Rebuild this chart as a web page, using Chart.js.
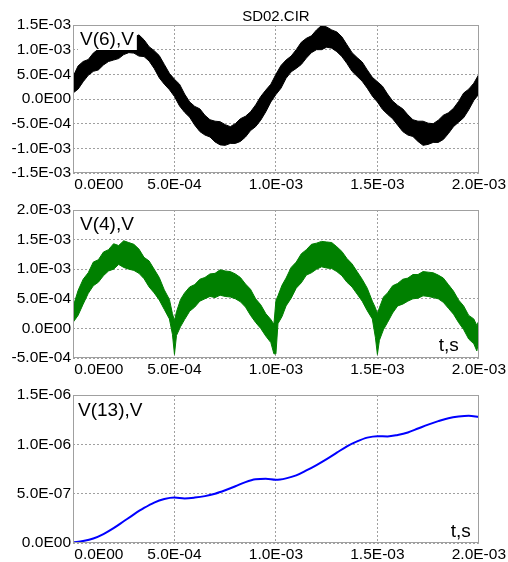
<!DOCTYPE html>
<html>
<head>
<meta charset="utf-8">
<script src="https://cdn.jsdelivr.net/npm/chart.js@4.4.1/dist/chart.umd.min.js"></script>
<style>
  body { margin: 0; background: #fff; }
  canvas { position: absolute; left: 0; }
</style>
</head>
<body>
<canvas id="c1" width="508" height="192" style="top:0px"></canvas>
<canvas id="c2" width="508" height="185" style="top:192px"></canvas>
<canvas id="c3" width="508" height="185" style="top:377px"></canvas>
<script>
// time axis, s
const xTicks = [0, 5e-4, 1e-3, 1.5e-3, 2e-3]
const xTickLabels = ['0.0E00', '5.0E-04', '1.0E-03', '1.5E-03', '2.0E-03']

// V(6) - noisy band, upper and lower edge
const t6 = [0, 0.25e-4, 0.5e-4, 0.75e-4, 1e-4, 1.25e-4, 1.5e-4, 1.75e-4, 2e-4, 2.25e-4,
  2.5e-4, 2.75e-4, 3e-4, 3.25e-4, 3.5e-4, 3.75e-4, 4e-4, 4.25e-4, 4.5e-4, 4.75e-4,
  5e-4, 5.25e-4, 5.5e-4, 5.75e-4, 6e-4, 6.25e-4, 6.5e-4, 6.75e-4, 7e-4, 7.25e-4,
  7.5e-4, 7.75e-4, 8e-4, 8.25e-4, 8.5e-4, 8.75e-4, 9e-4, 9.25e-4, 9.5e-4, 9.75e-4,
  10e-4, 10.25e-4, 10.5e-4, 10.75e-4, 11e-4, 11.25e-4, 11.5e-4, 11.75e-4, 12e-4, 12.25e-4,
  12.5e-4, 12.75e-4, 13e-4, 13.25e-4, 13.5e-4, 13.75e-4, 14e-4, 14.25e-4, 14.5e-4, 14.75e-4,
  15e-4, 15.25e-4, 15.5e-4, 15.75e-4, 16e-4, 16.25e-4, 16.5e-4, 16.75e-4, 17e-4, 17.25e-4,
  17.5e-4, 17.75e-4, 18e-4, 18.25e-4, 18.5e-4, 18.75e-4, 19e-4, 19.25e-4, 19.5e-4, 19.75e-4, 20e-4]
const v6Upper = [4.5e-4, 6.7e-4, 7.6e-4, 8.0e-4, 9.3e-4, 10.1e-4, 10.0e-4, 10.0e-4, 10.5e-4, 11.4e-4,
  11.5e-4, 12.2e-4, 12.5e-4, 13.0e-4, 12.0e-4, 10.6e-4, 9.8e-4, 8.8e-4, 7.0e-4, 5.2e-4,
  4.0e-4, 3.0e-4, 1.0e-4, -0.6e-4, -1.5e-4, -2.0e-4, -3.3e-4, -4.2e-4, -4.5e-4, -4.6e-4,
  -5.2e-4, -5.6e-4, -5.0e-4, -4.0e-4, -3.5e-4, -2.6e-4, -1.2e-4, 0.5e-4, 1.8e-4, 3.0e-4,
  5.0e-4, 6.8e-4, 7.9e-4, 8.7e-4, 10.0e-4, 11.5e-4, 12.3e-4, 12.8e-4, 14.0e-4, 14.9e-4,
  14.6e-4, 14.0e-4, 13.6e-4, 12.6e-4, 11.0e-4, 9.4e-4, 8.4e-4, 7.5e-4, 5.9e-4, 4.4e-4,
  3.5e-4, 2.6e-4, 1.0e-4, -0.4e-4, -1.3e-4, -2.0e-4, -3.2e-4, -4.2e-4, -4.5e-4, -4.5e-4,
  -4.9e-4, -5.0e-4, -4.3e-4, -3.3e-4, -2.8e-4, -1.9e-4, -0.5e-4, 1.2e-4, 2.0e-4, 3.2e-4, 5.0e-4]
const v6Lower = [1.2e-4, 2.0e-4, 3.5e-4, 4.8e-4, 5.6e-4, 5.9e-4, 6.9e-4, 7.6e-4, 7.9e-4, 8.2e-4,
  9.0e-4, 9.4e-4, 9.3e-4, 8.7e-4, 8.6e-4, 7.7e-4, 6.2e-4, 4.3e-4, 3.0e-4, 1.9e-4,
  0.5e-4, -1.4e-4, -2.7e-4, -3.7e-4, -5.3e-4, -6.6e-4, -7.3e-4, -7.7e-4, -8.7e-4, -9.3e-4,
  -9.4e-4, -9.0e-4, -9.0e-4, -8.6e-4, -7.7e-4, -6.4e-4, -5.6e-4, -4.3e-4, -2.6e-4, -0.6e-4,
  0.9e-4, 2.2e-4, 4.2e-4, 5.5e-4, 6.2e-4, 7.0e-4, 8.3e-4, 9.4e-4, 10.0e-4, 10.0e-4,
  10.5e-4, 10.3e-4, 9.6e-4, 8.6e-4, 7.2e-4, 5.6e-4, 4.6e-4, 3.6e-4, 2.2e-4, 0.6e-4,
  -0.6e-4, -2.1e-4, -3.1e-4, -4.0e-4, -5.3e-4, -6.6e-4, -7.3e-4, -7.6e-4, -8.6e-4, -9.4e-4,
  -9.2e-4, -8.8e-4, -8.8e-4, -8.2e-4, -7.0e-4, -5.6e-4, -4.7e-4, -3.8e-4, -2.2e-4, -0.3e-4, 1.0e-4]
const y6Ticks = [-1.5e-3, -1e-3, -5e-4, 0, 5e-4, 1e-3, 1.5e-3]
const y6Labels = ['-1.5E-03', '-1.0E-03', '-5.0E-04', '0.0E00', '5.0E-04', '1.0E-03', '1.5E-03']

// V(4) - rectified noisy band
const t4 = [0, 0.25e-4, 0.5e-4, 0.75e-4, 1e-4, 1.25e-4, 1.5e-4, 1.75e-4, 2e-4, 2.25e-4,
  2.5e-4, 2.75e-4, 3e-4, 3.25e-4, 3.5e-4, 3.75e-4, 4e-4, 4.25e-4, 4.5e-4, 4.75e-4,
  4.9e-4, 5.0e-4, 5.1e-4, 5.3e-4,
  5.5e-4, 5.75e-4, 6e-4, 6.25e-4, 6.5e-4, 6.75e-4, 7e-4, 7.25e-4, 7.5e-4,
  7.75e-4, 8e-4, 8.25e-4, 8.5e-4, 8.75e-4, 9e-4, 9.25e-4, 9.5e-4, 9.75e-4,
  9.9e-4, 10.0e-4, 10.1e-4, 10.3e-4,
  10.5e-4, 10.75e-4, 11e-4, 11.25e-4, 11.5e-4, 11.75e-4, 12e-4, 12.25e-4, 12.5e-4,
  12.75e-4, 13e-4, 13.25e-4, 13.5e-4, 13.75e-4, 14e-4, 14.25e-4, 14.5e-4, 14.75e-4,
  14.9e-4, 15.0e-4, 15.1e-4, 15.3e-4,
  15.5e-4, 15.75e-4, 16e-4, 16.25e-4, 16.5e-4, 16.75e-4, 17e-4, 17.25e-4, 17.5e-4,
  17.75e-4, 18e-4, 18.25e-4, 18.5e-4, 18.75e-4, 19e-4, 19.25e-4, 19.5e-4, 19.75e-4,
  19.9e-4, 20e-4]
const v4Upper = [3.6e-4, 6.4e-4, 8.3e-4, 9.4e-4, 11.2e-4, 11.6e-4, 12.9e-4, 13.3e-4, 14.3e-4, 14.0e-4,
  14.8e-4, 14.5e-4, 14.2e-4, 13.4e-4, 12.0e-4, 11.4e-4, 10.0e-4, 8.6e-4, 6.5e-4, 4.9e-4,
  2.5e-4, 1.3e-4, 2.8e-4, 4.9e-4,
  6.0e-4, 7.0e-4, 7.4e-4, 8.3e-4, 8.6e-4, 9.2e-4, 9.3e-4, 9.9e-4, 9.7e-4,
  9.6e-4, 9.2e-4, 8.6e-4, 7.5e-4, 6.6e-4, 5.0e-4, 4.0e-4, 2.5e-4, 1.5e-4,
  0.7e-4, 4.7e-4, 5.5e-4, 7.3e-4,
  8.5e-4, 10.3e-4, 11.2e-4, 12.6e-4, 13.3e-4, 14.2e-4, 14.4e-4, 14.7e-4, 14.6e-4,
  14.5e-4, 13.8e-4, 13.0e-4, 11.8e-4, 10.9e-4, 9.6e-4, 8.3e-4, 6.8e-4, 4.6e-4,
  3.5e-4, 2.5e-4, 3.5e-4, 5.3e-4,
  6.0e-4, 7.2e-4, 7.6e-4, 8.3e-4, 8.5e-4, 9.1e-4, 9.1e-4, 9.6e-4, 9.5e-4,
  9.4e-4, 9.0e-4, 8.5e-4, 7.4e-4, 6.3e-4, 4.8e-4, 3.8e-4, 2.2e-4, 1.6e-4,
  0.5e-4, 1.3e-4]
const v4Lower = [1.0e-4, 2.2e-4, 4.1e-4, 5.9e-4, 7.2e-4, 7.8e-4, 8.9e-4, 9.7e-4, 10.0e-4, 10.8e-4,
  10.3e-4, 10.0e-4, 9.8e-4, 9.3e-4, 8.4e-4, 7.0e-4, 6.0e-4, 4.8e-4, 3.2e-4, 1.6e-4,
  -1.0e-4, -4.4e-4, -1.2e-4, 0.3e-4,
  1.5e-4, 2.9e-4, 3.6e-4, 4.6e-4, 5.0e-4, 5.4e-4, 5.2e-4, 5.6e-4, 5.4e-4,
  5.3e-4, 5.0e-4, 4.5e-4, 3.6e-4, 2.2e-4, 1.0e-4, 0.0, -1.3e-4, -2.4e-4,
  -4.3e-4, -4.3e-4, 0.8e-4, 2.0e-4,
  3.8e-4, 5.1e-4, 6.8e-4, 7.7e-4, 9.0e-4, 9.4e-4, 10.0e-4, 10.4e-4, 10.2e-4,
  10.1e-4, 9.6e-4, 8.9e-4, 7.8e-4, 7.0e-4, 5.8e-4, 4.6e-4, 3.0e-4, 1.6e-4,
  -1.5e-4, -4.4e-4, -2.0e-4, -0.2e-4,
  1.0e-4, 2.6e-4, 3.8e-4, 4.1e-4, 4.6e-4, 5.0e-4, 5.1e-4, 5.5e-4, 5.4e-4,
  5.2e-4, 5.0e-4, 4.4e-4, 3.4e-4, 2.4e-4, 1.0e-4, -0.2e-4, -1.8e-4, -2.6e-4,
  -3.8e-4, -2.1e-4]
const y4Ticks = [-5e-4, 0, 5e-4, 1e-3, 1.5e-3, 2e-3]
const y4Labels = ['-5.0E-04', '0.0E00', '5.0E-04', '1.0E-03', '1.5E-03', '2.0E-03']

// V(13) - smooth
const t13 = [0, 0.5e-4, 1e-4, 1.5e-4, 2e-4, 2.5e-4, 3e-4, 3.5e-4, 4e-4, 4.5e-4,
  5e-4, 5.5e-4, 6e-4, 6.5e-4, 7e-4, 7.5e-4, 8e-4, 8.5e-4, 9e-4, 9.5e-4,
  10e-4, 10.5e-4, 11e-4, 11.5e-4, 12e-4, 12.5e-4, 13e-4, 13.5e-4, 14e-4, 14.5e-4,
  15e-4, 15.5e-4, 16e-4, 16.5e-4, 17e-4, 17.5e-4, 18e-4, 18.5e-4, 19e-4, 19.5e-4, 20e-4]
const v13 = [0.05e-7, 0.2e-7, 0.45e-7, 0.9e-7, 1.5e-7, 2.2e-7, 2.9e-7, 3.55e-7, 4.1e-7, 4.45e-7,
  4.6e-7, 4.52e-7, 4.6e-7, 4.75e-7, 5.0e-7, 5.35e-7, 5.75e-7, 6.17e-7, 6.45e-7, 6.5e-7,
  6.4e-7, 6.55e-7, 6.85e-7, 7.35e-7, 7.9e-7, 8.5e-7, 9.15e-7, 9.8e-7, 10.3e-7, 10.68e-7,
  10.83e-7, 10.8e-7, 10.95e-7, 11.2e-7, 11.6e-7, 12.0e-7, 12.35e-7, 12.65e-7, 12.82e-7, 12.9e-7, 12.78e-7]
const y13Ticks = [0, 5e-7, 1e-6, 1.5e-6]
const y13Labels = ['0.0E00', '5.0E-07', '1.0E-06', '1.5E-06']

Chart.defaults.font.family = "'Liberation Sans', Arial, sans-serif"
Chart.defaults.color = '#000'

const pts = (xs, ys) => xs.map((x, i) => ({ x: x, y: ys[i] }))

// first time label starts at the axis instead of being centred on it
const xLabel = (v, i) => i === 0 ? '            ' + xTickLabels[i] : xTickLabels[i]

// frame + text labels drawn over the plot
const frame = {
  id: 'frame',
  afterDatasetsDraw(chart, args, opts) {
    const ctx = chart.ctx
    const a = chart.chartArea
    ctx.save()
    ;(opts.notes || []).forEach(n => {
      ctx.font = n.size + "px 'Liberation Sans', Arial, sans-serif"
      ctx.textAlign = n.align || 'left'
      ctx.textBaseline = 'alphabetic'
      const x = n.right ? a.right - n.dx : a.left + n.dx
      const y = n.bottom ? a.bottom - n.dy : a.top + n.dy
      if (n.box) {
        const w = ctx.measureText(n.text).width
        ctx.fillStyle = '#fff'
        ctx.fillRect(x - 2, y - 18, w + 5, 23)
      }
      ctx.fillStyle = '#000'
      ctx.fillText(n.text, x, y)
    })
    if (opts.title) {
      ctx.font = "15px 'Liberation Sans', Arial, sans-serif"
      ctx.textAlign = 'center'
      ctx.fillStyle = '#000'
      ctx.fillText(opts.title, (a.left + a.right) / 2, a.top - 4)
    }
    ctx.strokeStyle = '#a0a0a0'
    ctx.lineWidth = 1
    ctx.strokeRect(Math.round(a.left) + 0.5, Math.round(a.top) + 0.5,
      Math.round(a.right - a.left) - 1, Math.round(a.bottom - a.top) - 1)
    ctx.restore()
  }
}

function makeChart(id, cfg) {
  const grid = { color: '#a0a0a0', lineWidth: 1, drawTicks: false }
  const border = { display: false, dash: [2, 2] }
  return new Chart(document.getElementById(id), {
    type: 'line',
    data: { datasets: cfg.datasets },
    options: {
      responsive: false,
      animation: false,
      devicePixelRatio: 1,
      layout: { padding: { top: cfg.top, right: 28, left: 0, bottom: 0 } },
      elements: { point: { radius: 0 }, line: { tension: 0 } },
      plugins: {
        legend: { display: false },
        tooltip: { enabled: false },
        frame: { notes: cfg.notes, title: cfg.title }
      },
      scales: {
        x: {
          type: 'linear', min: 0, max: 2e-3,
          afterFit: s => { s.height = 19 },
          afterBuildTicks: s => { s.ticks = xTicks.map(v => ({ value: v })) },
          ticks: { callback: xLabel, font: { size: 15.5 }, padding: 2, maxRotation: 0, autoSkip: false },
          grid: grid, border: border
        },
        y: {
          min: cfg.yTicks[0], max: cfg.yTicks[cfg.yTicks.length - 1],
          afterFit: s => { s.width = 73 },
          afterBuildTicks: s => { s.ticks = cfg.yTicks.map(v => ({ value: v })) },
          ticks: { callback: (v, i) => cfg.yLabels[i], font: { size: 15.5 }, padding: 2, autoSkip: false },
          grid: grid, border: border
        }
      }
    },
    plugins: [frame]
  })
}

makeChart('c1', {
  top: 25,
  title: 'SD02.CIR',
  yTicks: y6Ticks, yLabels: y6Labels,
  notes: [{ text: 'V(6),V', size: 19, dx: 7, dy: 20, box: true }],
  datasets: [
    { data: pts(t6, v6Upper), borderColor: '#000', borderWidth: 1, fill: false },
    { data: pts(t6, v6Lower), borderColor: '#000', borderWidth: 1, backgroundColor: '#000', fill: '-1' }
  ]
})

makeChart('c2', {
  top: 18,
  yTicks: y4Ticks, yLabels: y4Labels,
  notes: [
    { text: 'V(4),V', size: 19, dx: 7, dy: 20, box: true },
    { text: 't,s', size: 19, right: true, align: 'right', dx: 20, bottom: true, dy: 7 }
  ],
  datasets: [
    { data: pts(t4, v4Upper), borderColor: '#008000', borderWidth: 1, fill: false },
    { data: pts(t4, v4Lower), borderColor: '#008000', borderWidth: 1, backgroundColor: '#008000', fill: '-1' }
  ]
})

makeChart('c3', {
  top: 18,
  yTicks: y13Ticks, yLabels: y13Labels,
  notes: [
    { text: 'V(13),V', size: 19, dx: 5, dy: 21, box: true },
    { text: 't,s', size: 19, right: true, align: 'right', dx: 8, bottom: true, dy: 6 }
  ],
  datasets: [
    { data: pts(t13, v13), borderColor: '#0000ff', borderWidth: 2, fill: false, cubicInterpolationMode: 'monotone' }
  ]
})
</script>
</body>
</html>
